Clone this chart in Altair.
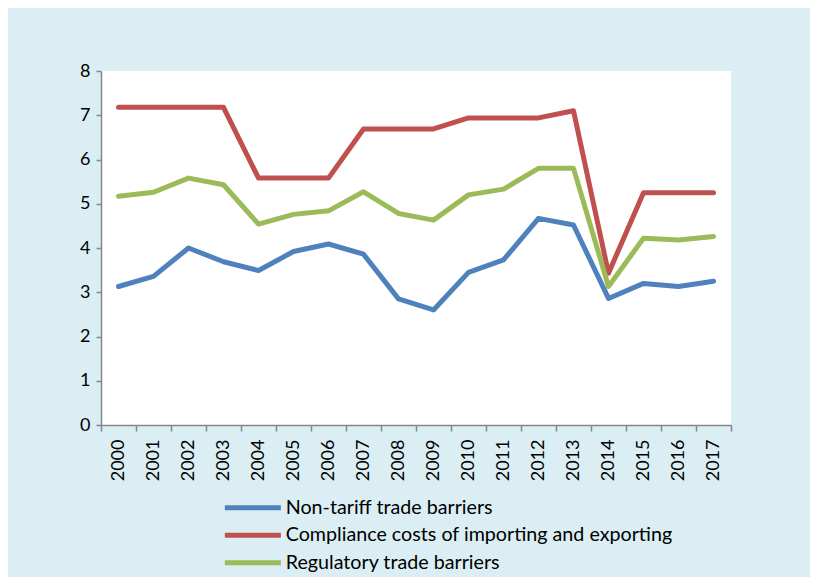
import altair as alt
import pandas as pd

years = [str(y) for y in range(2000, 2018)]
non_tariff = [3.13, 3.36, 4.00, 3.69, 3.49, 3.92, 4.09, 3.86, 2.85, 2.60,
              3.45, 3.73, 4.67, 4.52, 2.86, 3.20, 3.13, 3.25]
compliance = [7.18, 7.18, 7.18, 7.18, 5.58, 5.58, 5.58, 6.69, 6.69, 6.69,
              6.94, 6.94, 6.94, 7.10, 3.43, 5.25, 5.25, 5.25]
regulatory = [5.17, 5.26, 5.58, 5.43, 4.54, 4.76, 4.84, 5.27, 4.78, 4.63,
              5.20, 5.33, 5.80, 5.80, 3.13, 4.22, 4.18, 4.26]
series_names = ["Non-tariff trade barriers",
                "Compliance costs of importing and exporting",
                "Regulatory trade barriers"]
series_colors = ["#4F81BD", "#C0504D", "#9BBB59"]
y_ticks = [0, 1, 2, 3, 4, 5, 6, 7, 8]

rows = []
for name, vals in zip(series_names, [non_tariff, compliance, regulatory]):
    for yr, v in zip(years, vals):
        rows.append({"year": yr, "value": v, "series": name})
df = pd.DataFrame(rows)

FONT = "Lato"

chart = alt.Chart(df).mark_line(strokeWidth=5, strokeCap="round", strokeJoin="round").encode(
    x=alt.X("year:N", sort=years, title=None,
            scale=alt.Scale(paddingInner=0, paddingOuter=0),
            axis=alt.Axis(labelAngle=-90, tickBand="extent", tickSize=6,
                          labelFontSize=18, labelPadding=8, labelColor="#000000",
                          domainColor="#868686", tickColor="#868686",
                          domainWidth=1.5, tickWidth=1.5, grid=False)),
    y=alt.Y("value:Q", title=None,
            scale=alt.Scale(domain=[0, 8], nice=False),
            axis=alt.Axis(values=y_ticks, tickSize=5, labelFontSize=18,
                          labelPadding=6, labelColor="#000000",
                          domainColor="#868686", tickColor="#868686",
                          domainWidth=1.5, tickWidth=1.5, grid=False)),
    color=alt.Color("series:N", sort=series_names,
                    scale=alt.Scale(domain=series_names, range=series_colors),
                    legend=alt.Legend(title=None, orient="none",
                                      legendX=142, legendY=427,
                                      symbolType="M-4,0H4", symbolSize=196,
                                      symbolStrokeWidth=5,
                                      labelFontSize=19.7, labelColor="#000000",
                                      labelOffset=23, rowPadding=6.5,
                                      labelLimit=0, padding=0)),
).properties(
    width=630, height=354,
    autosize=alt.AutoSizeParams(type="none"),
    padding={"left": 93, "top": 63, "right": 79, "bottom": 152},
    background="#DBEEF4",
).configure(font=FONT).configure_view(fill="white", strokeWidth=0)

chart.save("out.html", embed_options={"renderer": "svg", "actions": False})
